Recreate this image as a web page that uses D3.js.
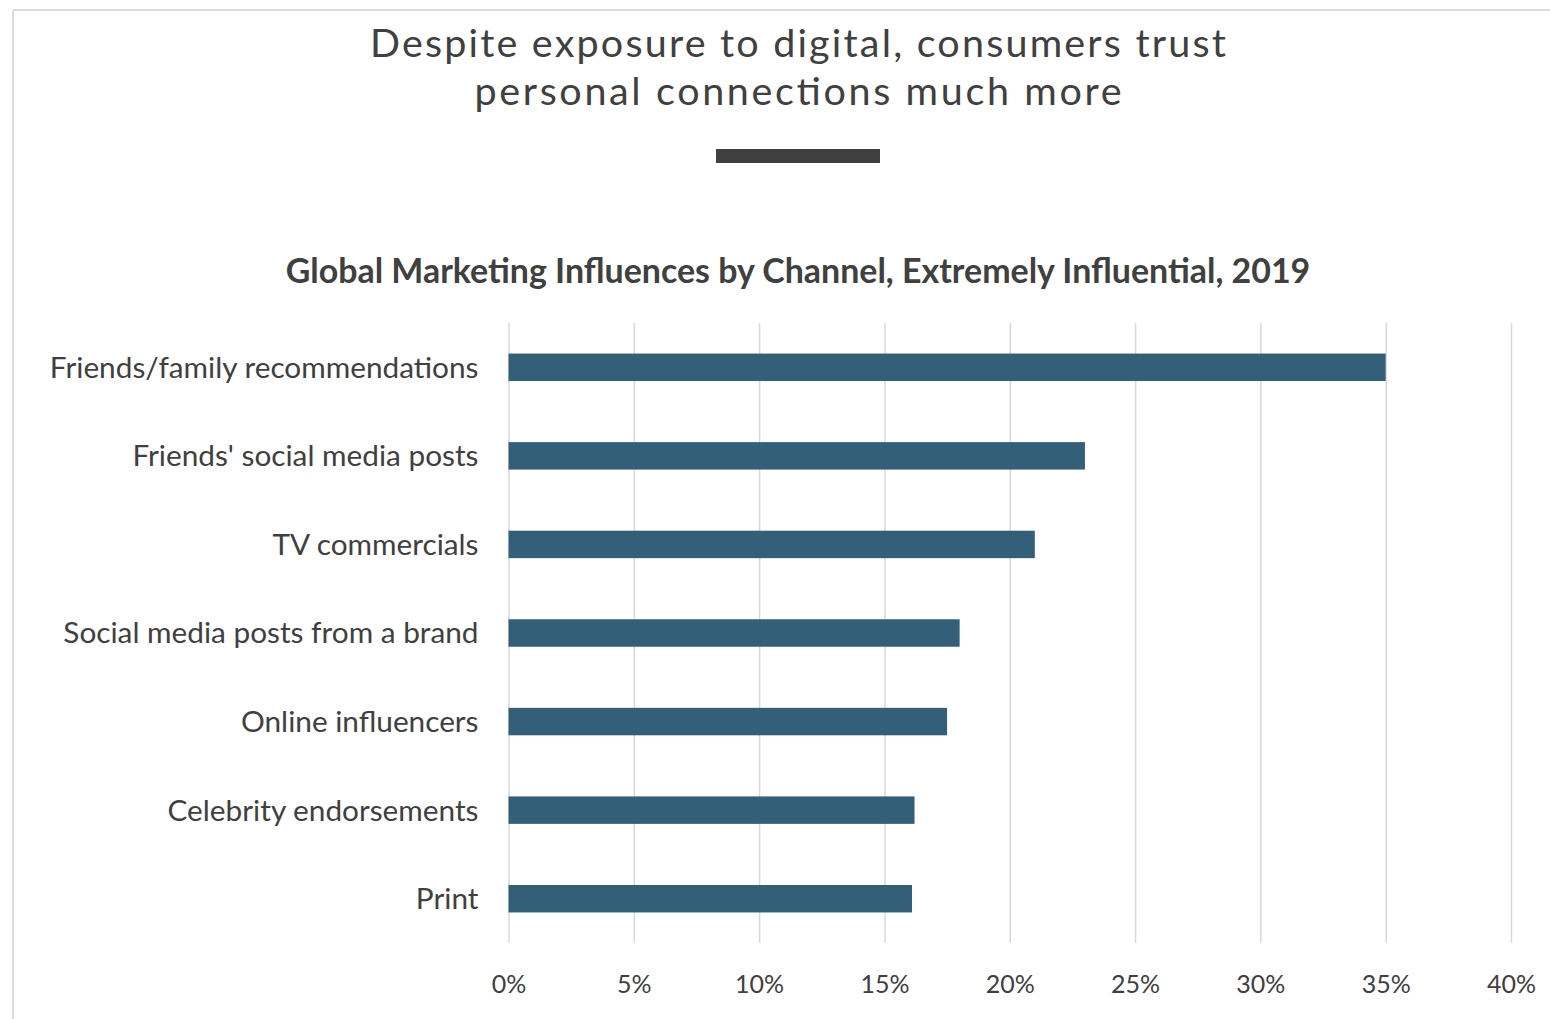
<!DOCTYPE html>
<html>
<head>
<meta charset="utf-8">
<script src="https://cdn.jsdelivr.net/npm/d3@7"></script>
<style>
  html, body { margin: 0; padding: 0; background: #fff; }
  svg { display: block; }
  text { font-family: Lato, "Open Sans", "Liberation Sans", sans-serif; fill: #404040; }
</style>
</head>
<body>
<svg id="chart" width="1550" height="1019"></svg>
<script>
// Channels, top to bottom
const categories = [
  "Friends/family recommendations",
  "Friends' social media posts",
  "TV commercials",
  "Social media posts from a brand",
  "Online influencers",
  "Celebrity endorsements",
  "Print"
];
// Share rating each channel "extremely influential" (%)
const values = [35, 23, 21, 18, 17.5, 16.2, 16.1];
// Axis ticks (%)
const tickValues = [0, 5, 10, 15, 20, 25, 30, 35, 40];

const titleLines = [
  "Despite exposure to digital, consumers trust",
  "personal connections much more"
];
const subtitle = "Global Marketing Influences by Channel, Extremely Influential, 2019";

const W = 1550, H = 1019;
const svg = d3.select("#chart");

// Scale a text's font size so that it spans the given width
function fitWidth(sel, target) {
  const fs = parseFloat(sel.attr("font-size"));
  const w = sel.node().getComputedTextLength();
  const nfs = fs * target / w;
  sel.attr("font-size", nfs);
  return nfs;
}

// Frame lines along the top and left edge
svg.append("line").attr("x1", 13).attr("x2", W).attr("y1", 10).attr("y2", 10)
  .attr("stroke", "#dcdcdc").attr("stroke-width", 2);
svg.append("line").attr("x1", 13).attr("x2", 13).attr("y1", 10).attr("y2", H)
  .attr("stroke", "#dcdcdc").attr("stroke-width", 2);

// Two-line headline, letter-spaced out to its full width
const centerX = 798;
const headBase = [57, 105];
const headWidth = [856, 647];
titleLines.forEach((line, i) => {
  svg.append("text").attr("x", centerX).attr("y", headBase[i])
    .attr("text-anchor", "middle").attr("font-size", 39.5)
    .attr("textLength", headWidth[i]).attr("lengthAdjust", "spacing")
    .text(line);
});

// Divider bar under the headline
svg.append("rect").attr("x", 716).attr("y", 149).attr("width", 164).attr("height", 14)
  .attr("fill", "#404040");

// Chart title
const st = svg.append("text").attr("x", centerX).attr("y", 283)
  .attr("text-anchor", "middle").attr("font-size", 28).attr("font-weight", "bold")
  .text(subtitle);
fitWidth(st, 1025);

// Scales
const x = d3.scaleLinear().domain([0, 40]).range([508.5, 1511]);
const y = d3.scaleBand().domain(categories).range([323, 943])
  .paddingInner(0.69).paddingOuter(0.345);

// Vertical gridlines and percentage labels
const xAxis = svg.append("g").attr("transform", "translate(0,943)")
  .call(d3.axisBottom(x).tickValues(tickValues).tickSize(-(943 - 323))
    .tickFormat(d => d + "%"));
xAxis.select(".domain").remove();
xAxis.selectAll(".tick line").attr("stroke", "#d9d9d9").attr("stroke-width", 1.5);
xAxis.selectAll(".tick text").attr("y", 50).attr("dy", 0)
  .attr("font-size", 25).attr("fill", "#404040")
  .style("font-family", "Lato, 'Open Sans', sans-serif");

// Bars
svg.append("g").selectAll("rect").data(values).join("rect")
  .attr("x", x(0))
  .attr("y", (d, i) => y(categories[i]))
  .attr("width", d => x(d) - x(0))
  .attr("height", y.bandwidth())
  .attr("fill", "#335f79");

// Category labels
const yAxis = svg.append("g").attr("transform", `translate(${x(0)},0)`)
  .call(d3.axisLeft(y).tickSize(0).tickPadding(30));
yAxis.select(".domain").remove();
yAxis.selectAll(".tick text").attr("fill", "#404040").attr("font-size", 26)
  .attr("dy", "0.35em")
  .style("font-family", "Lato, 'Open Sans', sans-serif");
const longest = yAxis.selectAll(".tick text").filter(d => d === categories[0]);
const labelSize = fitWidth(longest, 429);
yAxis.selectAll(".tick text").attr("font-size", labelSize);
</script>
</body>
</html>
